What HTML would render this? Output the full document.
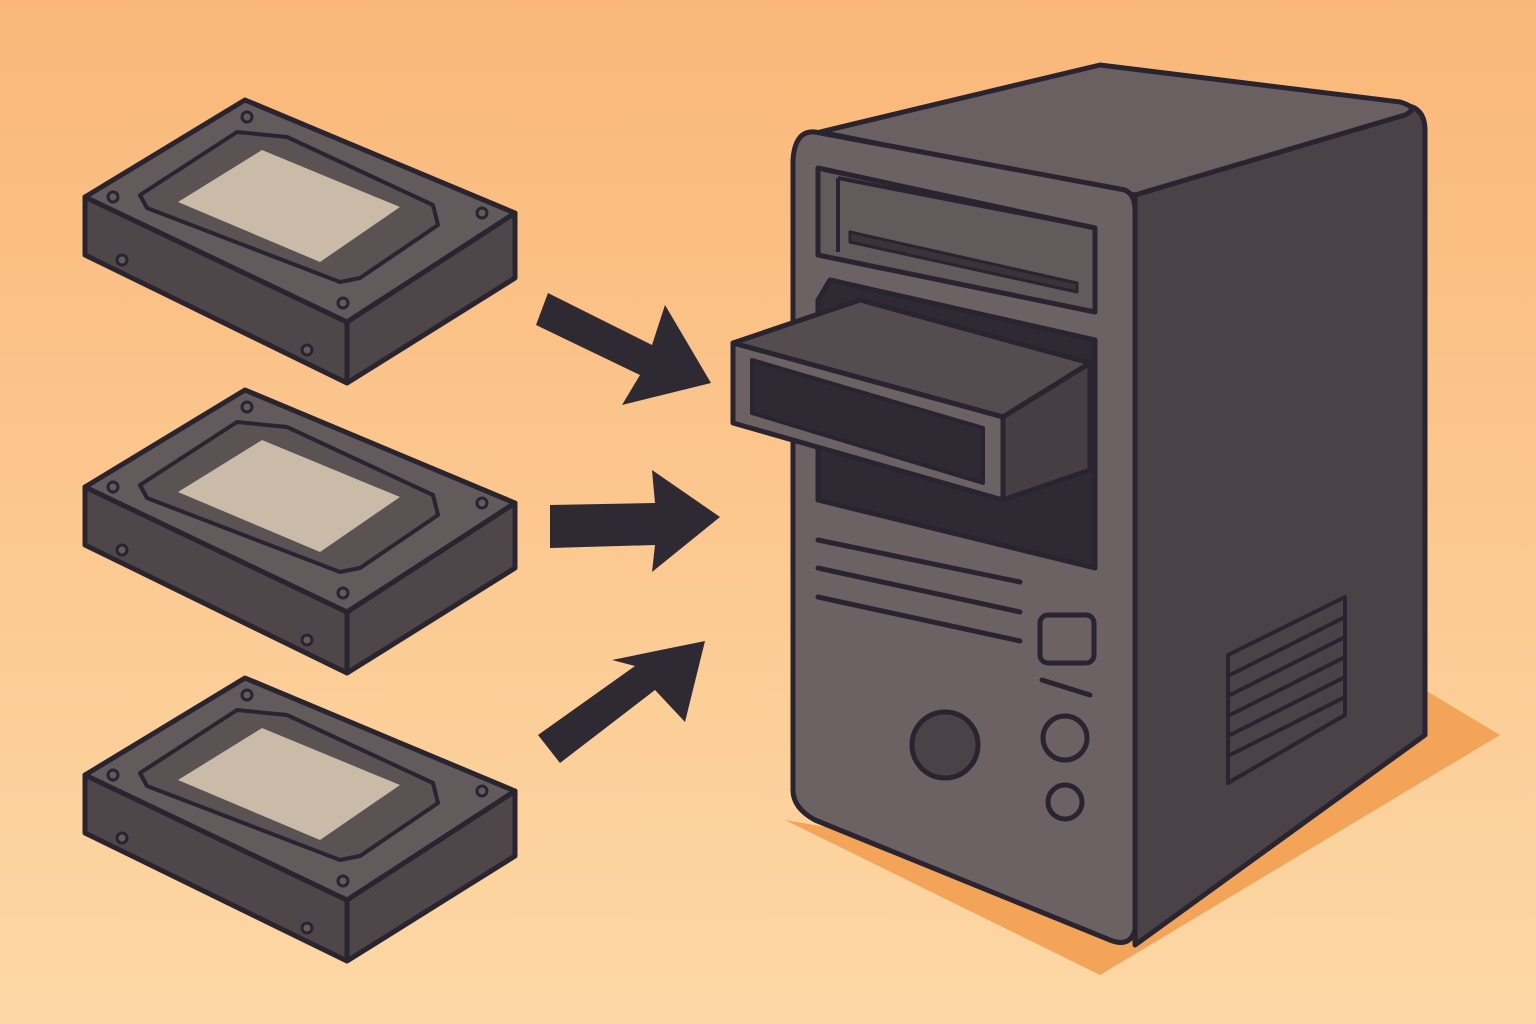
<!DOCTYPE html>
<html><head><meta charset="utf-8"><style>
html,body{margin:0;padding:0;width:1536px;height:1024px;overflow:hidden}
</style></head><body>
<svg width="1536" height="1024" viewBox="0 0 1536 1024" xmlns="http://www.w3.org/2000/svg">
<defs>
<linearGradient id="bg" x1="0" y1="0" x2="0" y2="1">
<stop offset="0" stop-color="#fab779"/><stop offset="1" stop-color="#fdd8a6"/>
</linearGradient>
<g id="hdd" stroke="#2a2430" stroke-width="5" stroke-linejoin="round">
<path d="M85,197 L85,255 L347,383 L515,278 L515,213 L347,322 Z" fill="#4e4648"/>
<path d="M347,322 L347,383" fill="none"/>
<path d="M85,197 L245,100 L515,213 L347,322 Z" fill="#625a5b"/>
<path d="M140,195 L237,132 L287,137 L433,205 L438,225 L360,278 L340,282 L147,208 Z" fill="#5a5253" stroke-width="4"/>
<path d="M178,202 L262,150 L400,207 L320,262 Z" fill="#c9bba8" stroke="none"/>
<g fill="#625a5b" stroke-width="3">
<circle cx="247" cy="117" r="5"/><circle cx="113" cy="197" r="5"/><circle cx="482" cy="213" r="5"/><circle cx="343" cy="303" r="5"/>
<circle cx="122" cy="260" r="5"/><circle cx="307" cy="350" r="5"/>
</g>
</g>
</defs>
<rect width="1536" height="1024" fill="url(#bg)"/>
<use href="#hdd"/>
<use href="#hdd" y="290"/>
<use href="#hdd" y="578"/>
<g fill="#2f2933">
<polygon points="548,293 536,325 640,375 622,405 711,383 665,305 652,345"/>
<polygon points="550,505 550,548 655,545 652,572 720,517 652,470 655,503"/>
<polygon points="538,735 560,763 655,690 685,722 705,641 612,660 635,666"/>
</g>
<polygon points="785,820 1100,975 1500,735 1425,690 1135,880" fill="#f4a459"/>
<g stroke="#2a2430" stroke-width="5" stroke-linejoin="round">
<path d="M1135,195 L1405,105 Q1425,108 1425,130 L1425,735 L1135,945 Z" fill="#4a4246"/>
<path d="M820,132 L1100,65 L1400,102 Q1420,108 1405,115 L1135,195 Z" fill="#6a6062"/>
<path d="M815,132 L1125,190 Q1135,195 1135,210 L1135,930 Q1130,948 1110,940 L815,820 Q793,808 793,790 L793,160 Q795,130 815,132 Z" fill="#6c6264"/>
<path d="M818,168 L1095,228 L1095,312 L818,255 Z" fill="#625a5b"/>
<path d="M838,178 L1095,228 M838,178 L838,252" fill="none" stroke-width="4"/>
<path d="M850,232 L1077,283 L1077,292 L850,242 Z" fill="#3a3338" stroke-width="3"/>
<path d="M830,280 L1095,340 L1095,568 L818,500 L818,300 Z" fill="#2f2933"/>
<path d="M733,343 L860,300 L1090,363 L1003,417 Z" fill="#554c4f"/>
<path d="M1003,417 L1090,363 L1090,470 L1003,500 Z" fill="#463e42"/>
<path d="M733,343 L1003,417 L1003,500 L733,423 Z" fill="#6c6264"/>
<path d="M752,360 L983,428 L983,483 L752,413 Z" fill="#2f2933" stroke-width="4"/>
<g fill="none" stroke-width="5" stroke-linecap="round">
<line x1="818" y1="540" x2="1020" y2="582"/>
<line x1="818" y1="568" x2="1020" y2="612"/>
<line x1="818" y1="597" x2="1020" y2="641"/>
<line x1="1042" y1="680" x2="1090" y2="695"/>
</g>
<rect x="1040" y="615" width="54" height="48" rx="8" fill="#6c6264"/>
<circle cx="945" cy="745" r="33" fill="#4a4246"/>
<circle cx="1065" cy="738" r="22" fill="#6c6264"/>
<circle cx="1065" cy="802" r="17" fill="#6c6264"/>
<path d="M1228,655 L1345,597 L1345,715 L1228,783 Z" fill="#4a4246" stroke-width="4"/>
<g stroke-width="4">
<line x1="1230" y1="675" x2="1345" y2="617"/>
<line x1="1230" y1="695" x2="1345" y2="637"/>
<line x1="1230" y1="715" x2="1345" y2="657"/>
<line x1="1230" y1="735" x2="1345" y2="677"/>
<line x1="1230" y1="755" x2="1345" y2="697"/>
</g>
</g>
</svg>
</body></html>
